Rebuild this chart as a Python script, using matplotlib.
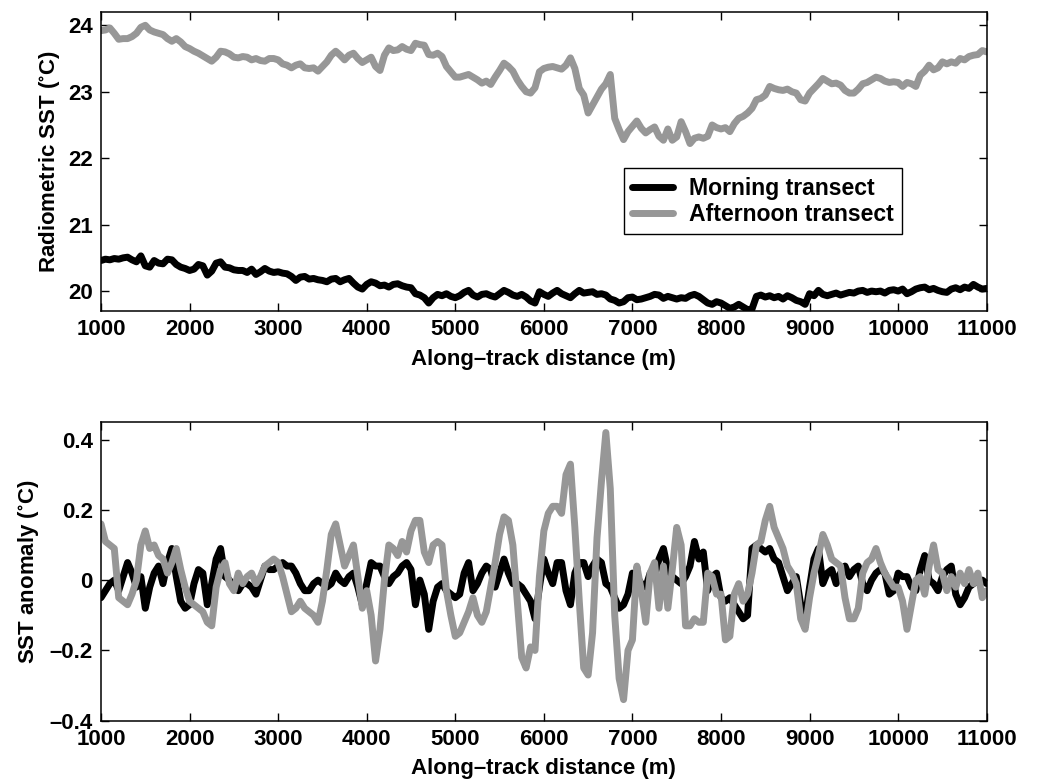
import numpy as np
from matplotlib import pyplot as plt
from matplotlib.ticker import FixedLocator

plt.rcParams['font.family'] = ['Liberation Sans', 'DejaVu Sans']
plt.rcParams['font.weight'] = 'bold'
plt.rcParams['mathtext.fontset'] = 'custom'
plt.rcParams['mathtext.rm'] = 'Liberation Sans:bold'
plt.rcParams['mathtext.default'] = 'regular'

# along-track distance (m), 50 m spacing
distance = np.arange(1000, 11001, 50)

# radiometric SST (deg C), top panel
morning_sst = [
    20.46, 20.48, 20.47, 20.49, 20.48, 20.50, 20.51, 20.47, 20.44, 20.53,
    20.38, 20.36, 20.46, 20.42, 20.41, 20.48, 20.47, 20.40, 20.36, 20.34,
    20.31, 20.33, 20.40, 20.38, 20.24, 20.30, 20.42, 20.44, 20.36, 20.35,
    20.32, 20.31, 20.31, 20.28, 20.33, 20.25, 20.29, 20.34, 20.30, 20.28,
    20.29, 20.27, 20.26, 20.22, 20.16, 20.21, 20.22, 20.18, 20.19, 20.17,
    20.16, 20.14, 20.18, 20.19, 20.14, 20.17, 20.19, 20.12, 20.06, 20.03,
    20.10, 20.14, 20.12, 20.08, 20.09, 20.06, 20.10, 20.11, 20.08, 20.06,
    20.05, 19.96, 19.94, 19.90, 19.82, 19.90, 19.95, 19.93, 19.96, 19.92,
    19.90, 19.93, 19.98, 20.01, 19.94, 19.91, 19.95, 19.96, 19.93, 19.91,
    19.96, 20.01, 19.98, 19.94, 19.92, 19.95, 19.91, 19.85, 19.82, 19.99,
    19.95, 19.92, 19.97, 20.01, 19.96, 19.93, 19.90, 19.96, 20.01, 19.97,
    19.98, 19.99, 19.95, 19.96, 19.94, 19.88, 19.86, 19.82, 19.84, 19.90,
    19.91, 19.87, 19.88, 19.90, 19.92, 19.95, 19.94, 19.89, 19.92, 19.90,
    19.88, 19.90, 19.89, 19.93, 19.95, 19.92, 19.87, 19.82, 19.80, 19.84,
    19.82, 19.78, 19.74, 19.76, 19.80, 19.76, 19.72, 19.73, 19.92, 19.94,
    19.91, 19.93, 19.90, 19.92, 19.88, 19.93, 19.90, 19.86, 19.84, 19.80,
    19.96, 19.93, 20.01, 19.95, 19.93, 19.95, 19.97, 19.94, 19.96, 19.98,
    19.97, 20.00, 20.01, 19.98, 20.00, 19.99, 20.00, 19.97, 20.01, 20.02,
    20.00, 20.03, 19.96, 19.99, 20.03, 20.05, 20.06, 20.02, 20.04, 20.01,
    19.99, 19.98, 20.03, 20.05, 20.02, 20.06, 20.04, 20.10, 20.06, 20.03,
    20.04,
]
afternoon_sst = [
    23.92, 23.93, 23.96, 23.88, 23.79, 23.80, 23.80, 23.83, 23.88, 23.97,
    24.00, 23.93, 23.90, 23.88, 23.86, 23.80, 23.76, 23.80, 23.75, 23.68,
    23.65, 23.61, 23.58, 23.54, 23.50, 23.46, 23.52, 23.61, 23.60, 23.57,
    23.52, 23.51, 23.53, 23.52, 23.48, 23.50, 23.47, 23.46, 23.50, 23.50,
    23.48, 23.42, 23.40, 23.36, 23.40, 23.42, 23.36, 23.35, 23.36, 23.31,
    23.38, 23.45, 23.55, 23.61, 23.55, 23.48, 23.55, 23.58, 23.50, 23.44,
    23.48, 23.52, 23.38, 23.32, 23.55, 23.66, 23.62, 23.63, 23.68, 23.64,
    23.62, 23.73, 23.71, 23.70, 23.56, 23.55, 23.58, 23.53, 23.38, 23.30,
    23.22, 23.22, 23.24, 23.26, 23.22, 23.18, 23.13, 23.16, 23.11, 23.22,
    23.32, 23.43, 23.38, 23.31, 23.18, 23.08, 23.00, 22.98, 23.06, 23.30,
    23.35, 23.37, 23.38, 23.36, 23.34, 23.40, 23.51, 23.35, 23.05, 22.95,
    22.68, 22.80, 22.92, 23.04, 23.12, 23.26, 22.60, 22.43, 22.28, 22.40,
    22.48, 22.56, 22.45, 22.38, 22.43, 22.47, 22.33, 22.27, 22.44, 22.27,
    22.32, 22.55, 22.40, 22.22, 22.30, 22.32, 22.30, 22.33, 22.50, 22.46,
    22.44, 22.46, 22.40, 22.52, 22.60, 22.63, 22.68, 22.75, 22.88, 22.90,
    22.95, 23.08, 23.05, 23.03, 23.02, 23.04, 23.00, 22.98, 22.88, 22.86,
    22.98, 23.05, 23.12, 23.20, 23.16, 23.12, 23.13, 23.10, 23.02, 22.98,
    22.98, 23.04, 23.12, 23.14, 23.18, 23.22, 23.20, 23.16, 23.14, 23.15,
    23.14, 23.08, 23.14, 23.12, 23.08, 23.25, 23.31, 23.40, 23.33, 23.36,
    23.45, 23.42, 23.45, 23.43, 23.50, 23.48, 23.53, 23.55, 23.56, 23.62,
    23.60,
]

# SST anomaly (deg C), bottom panel
morning_anom = [
    -0.05, -0.03, -0.01, 0.00, -0.03, 0.01, 0.05, 0.02, -0.02, 0.01,
    -0.08, -0.02, 0.02, 0.04, -0.01, 0.05, 0.09, 0.01, -0.06, -0.08,
    -0.07, -0.01, 0.03, 0.02, -0.07, -0.01, 0.06, 0.09, 0.01, 0.00,
    -0.02, -0.03, -0.01, -0.01, -0.02, -0.04, 0.00, 0.04, 0.03, 0.03,
    0.04, 0.05, 0.04, 0.04, 0.02, -0.01, -0.03, -0.03, -0.01, 0.00,
    -0.01, -0.02, -0.01, 0.02, 0.00, -0.01, 0.01, 0.02, -0.02, -0.07,
    -0.01, 0.05, 0.04, 0.04, 0.01, -0.01, 0.01, 0.02, 0.04, 0.05,
    0.03, -0.07, 0.00, -0.04, -0.14, -0.06, -0.02, -0.01, -0.03, -0.04,
    -0.05, -0.04, 0.02, 0.05, -0.03, -0.01, 0.02, 0.04, 0.03, -0.02,
    0.02, 0.06, 0.02, -0.01, -0.01, -0.02, -0.04, -0.06, -0.11, -0.02,
    0.06, 0.02, -0.01, 0.05, 0.05, -0.03, -0.07, 0.02, 0.05, 0.05,
    0.01, 0.04, 0.06, 0.05, -0.01, -0.02, -0.05, -0.08, -0.07, -0.04,
    0.02, 0.01, -0.01, -0.02, 0.02, 0.01, 0.06, 0.09, 0.03, 0.01,
    0.00, -0.01, 0.01, 0.04, 0.11, 0.06, 0.08, -0.03, 0.01, 0.02,
    -0.05, -0.06, -0.05, -0.07, -0.09, -0.11, -0.10, 0.09, 0.10, 0.09,
    0.08, 0.09, 0.06, 0.05, 0.01, -0.03, -0.01, 0.01, -0.07, -0.11,
    -0.02, 0.06, 0.09, -0.01, 0.02, 0.03, -0.01, 0.02, 0.04, 0.01,
    0.03, 0.04, -0.01, -0.03, 0.00, 0.02, 0.03, 0.02, -0.04, -0.03,
    0.02, 0.01, 0.01, -0.02, -0.03, 0.03, 0.07, 0.00, -0.01, -0.03,
    0.01, 0.03, 0.04, -0.04, -0.07, -0.05, -0.02, -0.01, 0.00, 0.00,
    -0.01,
]
afternoon_anom = [
    0.16, 0.11, 0.10, 0.09, -0.05, -0.06, -0.07, -0.04, 0.00, 0.10,
    0.14, 0.09, 0.10, 0.07, 0.06, 0.02, 0.05, 0.09, 0.03, -0.02,
    -0.06, -0.07, -0.08, -0.09, -0.12, -0.13, -0.02, 0.03, 0.05, -0.01,
    -0.03, 0.02, -0.01, 0.01, 0.02, -0.01, 0.01, 0.04, 0.05, 0.06,
    0.05, 0.01, -0.04, -0.09, -0.08, -0.06, -0.08, -0.09, -0.10, -0.12,
    -0.06, 0.03, 0.13, 0.16, 0.10, 0.04, 0.07, 0.10, 0.01, -0.08,
    -0.03, -0.10, -0.23, -0.14, 0.00, 0.10, 0.09, 0.07, 0.11, 0.08,
    0.14, 0.17, 0.17, 0.08, 0.05, 0.10, 0.11, 0.10, -0.03, -0.10,
    -0.16, -0.15, -0.12, -0.09, -0.05, -0.10, -0.12, -0.09, -0.02, 0.05,
    0.13, 0.18, 0.17, 0.10, -0.06, -0.22, -0.25, -0.19, -0.20, 0.01,
    0.14, 0.19, 0.21, 0.21, 0.19, 0.30, 0.33, 0.15, -0.06, -0.25,
    -0.27, -0.15, 0.12, 0.28, 0.42, 0.26, -0.10, -0.28, -0.34, -0.20,
    -0.17, 0.04, -0.03, -0.12, 0.02, 0.05, -0.08, 0.04, -0.08, 0.03,
    0.15, 0.10, -0.13, -0.13, -0.11, -0.12, -0.12, 0.02, 0.01, -0.04,
    -0.04, -0.17, -0.16, -0.04, -0.01, -0.06, -0.04, 0.02, 0.10, 0.11,
    0.17, 0.21, 0.15, 0.12, 0.09, 0.04, 0.02, -0.01, -0.11, -0.14,
    -0.05, 0.02, 0.07, 0.13, 0.10, 0.06, 0.05, 0.04, -0.05, -0.11,
    -0.11, -0.08, 0.02, 0.05, 0.06, 0.09, 0.05, 0.02, 0.00, -0.02,
    -0.02, -0.06, -0.14, -0.07, 0.00, 0.01, -0.04, 0.04, 0.10, 0.03,
    0.02, -0.03, 0.01, -0.02, 0.02, -0.01, 0.03, -0.01, 0.02, -0.05,
    -0.03,
]

x_ticks = [1000, 2000, 3000, 4000, 5000, 6000, 7000, 8000, 9000, 10000, 11000]
anom_ticks = [-0.4, -0.2, 0, 0.2, 0.4]
anom_labels = ['\u20130.4', '\u20130.2', '0', '0.2', '0.4']

black = 'black'
grey = '#979797'
lw = 5
fs = 16


def style(ax):
    ax.set_xlim(1000, 11000)
    ax.xaxis.set_major_locator(FixedLocator(x_ticks))
    ax.tick_params(direction='in', length=6, width=1, top=True, right=True,
                   labelsize=fs, pad=6)
    for s in ax.spines.values():
        s.set_linewidth(1.1)
    ax.set_xlabel('Along\u2013track distance (m)', fontsize=fs,
                  fontweight='bold', labelpad=6)


fig = plt.figure(figsize=(10.37, 7.81), dpi=100)

ax1 = fig.add_axes([0.0974, 0.6018, 0.8541, 0.3828])
ax1.plot(distance, morning_sst, color=black, lw=lw, label='Morning transect',
         solid_capstyle='round', solid_joinstyle='round')
ax1.plot(distance, afternoon_sst, color=grey, lw=lw, label='Afternoon transect',
         solid_capstyle='round', solid_joinstyle='round')
style(ax1)
ax1.set_ylim(19.7, 24.2)
ax1.set_yticks([20, 21, 22, 23, 24])
ax1.set_ylabel(r'Radiometric SST ($^{\circ}$C)', fontsize=fs,
               fontweight='bold', labelpad=4)
leg = ax1.legend(loc='upper left', bbox_to_anchor=(0.590, 0.478),
                 fontsize=16.6, frameon=True, fancybox=False, framealpha=1,
                 edgecolor='black', handlelength=1.75, borderpad=0.38,
                 labelspacing=0.12, handletextpad=0.7, borderaxespad=0)
leg.get_frame().set_linewidth(1.0)

ax2 = fig.add_axes([0.0974, 0.0772, 0.8541, 0.3825])
ax2.plot(distance, morning_anom, color=black, lw=lw,
         solid_capstyle='round', solid_joinstyle='round')
ax2.plot(distance, afternoon_anom, color=grey, lw=lw,
         solid_capstyle='round', solid_joinstyle='round')
style(ax2)
ax2.set_ylim(-0.4, 0.45)
ax2.set_yticks(anom_ticks)
ax2.set_yticklabels(anom_labels)
ax2.set_ylabel(r'SST anomaly ($^{\circ}$C)', fontsize=fs,
               fontweight='bold', labelpad=6)

fig.savefig('out.png', dpi=100)
